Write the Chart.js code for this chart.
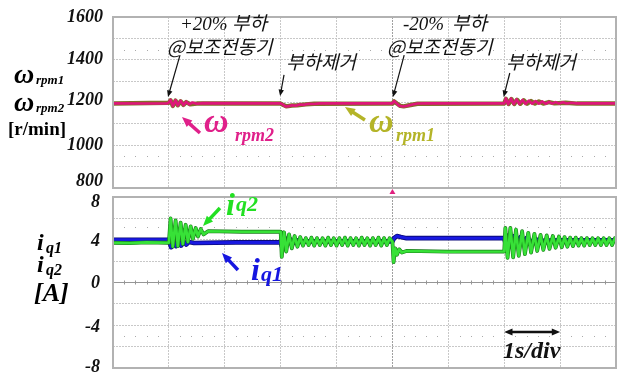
<!DOCTYPE html>
<html lang="ko">
<head>
<meta charset="UTF-8">
<title>Speed and q-axis current response</title>
<script src="https://cdn.jsdelivr.net/npm/chart.js@4.4.1/dist/chart.umd.min.js"></script>
<style>
  body { margin: 0; background: #fff; }
  #wrap { position: relative; width: 622px; height: 376px; overflow: hidden; }
  canvas { position: absolute; left: 0; top: 0; }
  .t { position: absolute; line-height: 1; white-space: nowrap; }
  .s { font-family: "Liberation Serif", serif; font-weight: bold; font-style: italic; }
  .k { font-family: "Noto Sans CJK KR", sans-serif; font-style: italic; font-size: 19px; color: #111; }
</style>
</head>
<body>
<div id="wrap">
  <canvas id="speedChart" width="622" height="376"></canvas>
  <canvas id="currentChart" width="622" height="376"></canvas>

  <!-- event notes -->
  <div class="t" style="left:180px;top:13px;font:italic 19px 'Liberation Serif';color:#111">+20%</div>
  <div class="t k" style="left:232px;top:12px">부하</div>
  <div class="t k" style="left:167px;top:36px">@보조전동기</div>
  <div class="t k" style="left:286px;top:51px">부하제거</div>
  <div class="t" style="left:403px;top:13px;font:italic 19px 'Liberation Serif';color:#111">-20%</div>
  <div class="t k" style="left:452px;top:12px">부하</div>
  <div class="t k" style="left:387px;top:36px">@보조전동기</div>
  <div class="t k" style="left:506px;top:51px">부하제거</div>

  <!-- axis names -->
  <div class="t s" style="left:14px;top:60px;font-size:28px">ω</div>
  <div class="t s" style="left:36px;top:73px;font-size:13px">rpm1</div>
  <div class="t s" style="left:14px;top:88px;font-size:28px">ω</div>
  <div class="t s" style="left:36px;top:101px;font-size:13px">rpm2</div>
  <div class="t" style="left:8px;top:118px;font:bold 19px 'Liberation Serif'">[r/min]</div>
  <div class="t s" style="left:37px;top:230px;font-size:24px">i</div>
  <div class="t s" style="left:46px;top:240px;font-size:16px">q1</div>
  <div class="t s" style="left:37px;top:252px;font-size:24px">i</div>
  <div class="t s" style="left:46px;top:262px;font-size:16px">q2</div>
  <div class="t s" style="left:34px;top:280px;font-size:26px">[A]</div>

  <!-- trace names -->
  <div class="t s" style="left:204px;top:104px;font-size:34px;color:#e0208a">ω</div>
  <div class="t s" style="left:235px;top:126px;font-size:18px;color:#e0208a">rpm2</div>
  <div class="t s" style="left:369px;top:104px;font-size:34px;color:#b4b428">ω</div>
  <div class="t s" style="left:396px;top:126px;font-size:18px;color:#b4b428">rpm1</div>
  <div class="t s" style="left:226px;top:188px;font-size:32px;color:#22e022">i</div>
  <div class="t s" style="left:236px;top:193px;font-size:22px;color:#22e022">q2</div>
  <div class="t s" style="left:251px;top:253px;font-size:32px;color:#1616e0">i</div>
  <div class="t s" style="left:261px;top:263px;font-size:22px;color:#1616e0">q1</div>
  <div class="t s" style="left:503px;top:338px;font-size:24px;color:#111">1s/div</div>
</div>

<script>
// time axis: 9 divisions, 1 s each
const timeRange = [0, 9];
const speedTicks = [800, 1000, 1200, 1400, 1600];
const currentTicks = [-8, -4, 0, 4, 8];

// motor speeds [t (s), r/min]
const rpm1 = [
  [0, 1195], [1.0, 1199], [1.03, 1210], [1.07, 1184], [1.12, 1209], [1.16, 1187], [1.21, 1206],
  [1.26, 1189], [1.31, 1202], [1.38, 1192], [1.5, 1195], [3.0, 1195], [3.05, 1188], [3.1, 1182],
  [3.2, 1186], [3.3, 1187], [3.45, 1191], [3.6, 1194], [5.0, 1195], [5.03, 1205], [5.08, 1195],
  [5.14, 1184], [5.2, 1182], [5.3, 1187], [5.45, 1194], [7.0, 1195], [7.03, 1217], [7.08, 1193],
  [7.13, 1216], [7.18, 1193], [7.23, 1213], [7.29, 1194], [7.35, 1210], [7.41, 1194], [7.48, 1207],
  [7.55, 1195], [7.62, 1205], [7.7, 1195], [7.8, 1202], [7.9, 1196], [8.1, 1199], [8.3, 1195], [9.0, 1195]
];
const rpm2 = [
  [0, 1196], [0.5, 1195], [0.97, 1196], [1.0, 1200], [1.03, 1212], [1.07, 1183], [1.12, 1211],
  [1.16, 1186], [1.21, 1208], [1.26, 1188], [1.31, 1204], [1.36, 1191], [1.42, 1200], [1.5, 1194],
  [1.6, 1197], [3.0, 1196], [3.04, 1190], [3.09, 1181], [3.15, 1183], [3.2, 1187], [3.27, 1185],
  [3.34, 1191], [3.42, 1189], [3.5, 1194], [3.6, 1193], [3.7, 1196], [5.0, 1196], [5.03, 1207],
  [5.07, 1197], [5.12, 1185], [5.19, 1181], [5.27, 1185], [5.36, 1191], [5.45, 1195], [5.6, 1196],
  [7.0, 1196], [7.03, 1219], [7.07, 1192], [7.12, 1218], [7.17, 1192], [7.22, 1215], [7.27, 1193],
  [7.33, 1212], [7.38, 1193], [7.44, 1209], [7.5, 1194], [7.56, 1207], [7.62, 1194], [7.68, 1205],
  [7.74, 1194], [7.8, 1203], [7.86, 1195], [7.92, 1202], [7.98, 1195], [8.05, 1201], [8.12, 1195],
  [8.2, 1199], [8.3, 1196], [9.0, 1196]
];

// q-axis currents [t (s), A]
const iq1 = [
  [0, 4.0], [1.0, 4.0], [1.04, 3.3], [1.08, 3.95], [1.13, 3.4], [1.17, 3.9], [1.22, 3.45],
  [1.26, 3.85], [1.31, 3.55], [1.36, 3.8], [1.45, 3.7], [2.2, 3.75], [3.0, 3.75], [3.03, 3.25],
  [3.07, 4.2], [3.11, 3.5], [3.16, 4.1], [3.21, 3.6], [3.27, 4.0], [3.35, 3.8], [3.5, 3.85],
  [5.0, 3.85], [5.03, 4.15], [5.08, 4.35], [5.15, 4.25], [5.25, 4.15], [6.0, 4.15], [7.0, 4.15],
  [7.03, 3.5], [7.08, 4.4], [7.13, 3.5], [7.18, 4.35], [7.24, 3.6], [7.29, 4.25], [7.35, 3.65],
  [7.40, 4.15], [7.46, 3.75], [7.55, 4.05], [7.65, 3.9], [8.0, 3.95], [9.0, 3.95]
];
const iq2 = [
  [0, 3.72], [0.3, 3.68], [0.6, 3.75], [1.0, 3.72], [1.03, 6.0], [1.07, 3.35], [1.12, 5.8],
  [1.16, 3.4], [1.21, 5.6], [1.25, 3.6], [1.30, 5.4], [1.34, 3.8], [1.39, 5.25], [1.43, 4.1],
  [1.48, 5.1], [1.52, 4.3], [1.57, 5.0], [1.62, 4.5], [1.70, 4.8], [2.3, 4.75], [3.0, 4.75],
  [3.02, 2.4], [3.06, 4.7], [3.10, 2.9], [3.15, 4.5], [3.20, 3.2], [3.25, 4.35], [3.30, 3.35],
  [3.35, 4.25], [3.40, 3.45], [3.45, 4.15], [3.50, 3.5], [3.55, 4.2], [3.60, 3.45], [3.65, 4.15],
  [3.70, 3.5], [3.75, 4.15], [3.80, 3.45], [3.85, 4.2], [3.90, 3.5], [3.95, 4.15], [4.00, 3.45],
  [4.05, 4.15], [4.10, 3.5], [4.15, 4.2], [4.20, 3.45], [4.25, 4.15], [4.30, 3.5], [4.35, 4.15],
  [4.40, 3.45], [4.45, 4.2], [4.50, 3.5], [4.55, 4.15], [4.60, 3.45], [4.65, 4.15], [4.70, 3.5],
  [4.75, 4.2], [4.80, 3.45], [4.85, 4.15], [4.90, 3.5], [4.95, 4.15], [5.00, 3.8], [5.02, 1.9],
  [5.05, 3.2], [5.08, 2.6], [5.12, 3.1], [5.17, 2.8], [5.25, 2.95], [6.0, 2.88], [7.0, 2.9],
  [7.02, 5.1], [7.06, 2.3], [7.11, 5.1], [7.16, 2.35], [7.21, 4.95], [7.26, 2.5], [7.32, 4.8],
  [7.37, 2.65], [7.43, 4.65], [7.48, 2.8], [7.54, 4.55], [7.59, 2.95], [7.65, 4.45], [7.70, 3.05],
  [7.76, 4.4], [7.81, 3.15], [7.87, 4.35], [7.92, 3.25], [7.98, 4.3], [8.03, 3.3], [8.08, 4.25],
  [8.13, 3.35], [8.18, 4.2], [8.23, 3.4], [8.28, 4.2], [8.33, 3.45], [8.38, 4.15], [8.43, 3.45],
  [8.48, 4.15], [8.53, 3.5], [8.58, 4.15], [8.63, 3.5], [8.68, 4.15], [8.73, 3.5], [8.78, 4.15],
  [8.83, 3.5], [8.88, 4.15], [8.93, 3.5], [8.98, 4.15], [9.0, 3.9]
];

const toXY = pts => pts.map(([x, y]) => ({ x, y }));

function drawArrow(ctx, x0, y0, x1, y1, color, width, head, both) {
  const ang = Math.atan2(y1 - y0, x1 - x0);
  const tip = (x, y, a) => {
    ctx.beginPath();
    ctx.moveTo(x, y);
    ctx.lineTo(x - head * Math.cos(a - 0.4), y - head * Math.sin(a - 0.4));
    ctx.lineTo(x - head * Math.cos(a + 0.4), y - head * Math.sin(a + 0.4));
    ctx.closePath();
    ctx.fill();
  };
  ctx.strokeStyle = color;
  ctx.fillStyle = color;
  ctx.lineWidth = width;
  ctx.beginPath();
  const back = head * 0.7;
  ctx.moveTo(both ? x0 + back * Math.cos(ang) : x0, both ? y0 + back * Math.sin(ang) : y0);
  ctx.lineTo(x1 - back * Math.cos(ang), y1 - back * Math.sin(ang));
  ctx.stroke();
  tip(x1, y1, ang);
  if (both) tip(x0, y0, ang + Math.PI);
}

// scope screen decorations: dotted rows, centre ticks, frame, arrows
const scopeMarks = {
  id: 'scopeMarks',
  beforeDraw(chart, args, opts) {
    // nudge the end labels that sit next to the other panel
    const y = chart.scales.y;
    const shift = opts.labelShift || {};
    y.getLabelItems(chart.chartArea).forEach(item => {
      if (shift[item.label] !== undefined && !item.shifted) {
        item.options.translation[1] += shift[item.label];
        item.shifted = true;
      }
    });
  },
  beforeDatasetsDraw(chart, args, opts) {
    const { ctx, chartArea: a, scales: { x, y } } = chart;
    const step = (a.right - a.left) / 45;
    ctx.save();
    ctx.fillStyle = 'rgb(170,170,170)';
    (opts.dotRows || []).forEach(v => {
      const py = Math.round(y.getPixelForValue(v));
      for (let i = 1; i < 45; i++) {
        if (i % 5) ctx.fillRect(Math.round(a.left + i * step), py, 1, 1);
      }
    });
    if (opts.centreTicks !== undefined) {
      const py = y.getPixelForValue(opts.centreTicks);
      ctx.strokeStyle = 'rgb(150,150,150)';
      ctx.lineWidth = 1;
      ctx.beginPath();
      ctx.moveTo(a.left, py); ctx.lineTo(a.right, py);
      for (let i = 1; i < 45; i++) {
        const px = Math.round(a.left + i * step) + 0.5;
        ctx.moveTo(px, py - 2); ctx.lineTo(px, py + 2);
      }
      ctx.stroke();
    }
    ctx.restore();
  },
  afterDatasetsDraw(chart, args, opts) {
    const { ctx, chartArea: a, scales: { x, y } } = chart;
    ctx.save();
    ctx.strokeStyle = 'rgb(178,178,178)';
    ctx.lineWidth = 2;
    ctx.strokeRect(a.left, a.top, a.right - a.left, a.bottom - a.top);
    (opts.arrows || []).forEach(ar => {
      drawArrow(ctx, x.getPixelForValue(ar.from[0]), y.getPixelForValue(ar.from[1]),
        x.getPixelForValue(ar.to[0]), y.getPixelForValue(ar.to[1]),
        ar.color, ar.width, ar.head, ar.both);
    });
    if (opts.trigger !== undefined) {
      const px = x.getPixelForValue(opts.trigger);
      ctx.fillStyle = '#e0207f';
      ctx.beginPath();
      ctx.moveTo(px, a.top - 8); ctx.lineTo(px + 3, a.top - 3); ctx.lineTo(px - 3, a.top - 3);
      ctx.closePath();
      ctx.fill();
    }
    ctx.restore();
  }
};

function scopeOptions(yMin, yMax, yStep, labels, tickPad, padding, marks) {
  const gridCol = 'rgb(200,200,200)';
  return {
    responsive: false,
    animation: false,
    devicePixelRatio: 1,
    events: [],
    layout: { padding },
    plugins: { legend: { display: false }, tooltip: { enabled: false }, scopeMarks: marks },
    elements: { point: { radius: 0 }, line: { tension: 0, borderJoinStyle: 'round' } },
    scales: {
      x: {
        type: 'linear', min: timeRange[0], max: timeRange[1],
        ticks: { display: false, stepSize: 1 },
        grid: { drawTicks: false, color: c => c.tick.value === 5 ? 'rgb(160,160,160)' : gridCol },
        border: { display: false, dash: [2, 1] },
        afterFit: s => { s.height = 0; }
      },
      y: {
        min: yMin, max: yMax,
        ticks: {
          stepSize: yStep, autoSkip: false, padding: tickPad, color: '#111',
          font: { family: "'Liberation Serif', 'Times New Roman', serif", size: 18, weight: 'bold', style: 'italic' },
          callback: v => labels.includes(v) ? String(v) : ''
        },
        grid: { drawTicks: false, color: gridCol },
        border: { display: false, dash: [2, 1] },
        afterFit: s => { s.width = 113; s.paddingTop = 0; s.paddingBottom = 0; }
      }
    }
  };
}

new Chart(document.getElementById('speedChart'), {
  type: 'line',
  data: {
    datasets: [
      { data: toXY(rpm2), borderColor: 'rgb(222,22,122)', borderWidth: 2.6, order: 1 },
      { data: toXY(rpm1), borderColor: 'rgb(130,110,40)', borderWidth: 4.4, order: 2 }
    ]
  },
  options: scopeOptions(800, 1600, 100, speedTicks, 10, { top: 17, right: 6, bottom: 188, left: 0 }, {
    labelShift: { '800': -7, '1200': -2 },
    dotRows: [1446, 950],
    arrows: [
      { from: [1.199, 1422], to: [0.984, 1226], color: '#111', width: 1.2, head: 7 },
      { from: [3.06, 1329], to: [2.99, 1230], color: '#111', width: 1.2, head: 7 },
      { from: [5.21, 1422], to: [5.01, 1226], color: '#111', width: 1.2, head: 7 },
      { from: [7.10, 1338], to: [6.99, 1226], color: '#111', width: 1.2, head: 7 },
      { from: [1.556, 1057], to: [1.234, 1132], color: '#e0208a', width: 3.5, head: 11 },
      { from: [4.508, 1118], to: [4.150, 1179], color: '#b4b428', width: 3.5, head: 11 }
    ]
  }),
  plugins: [scopeMarks]
});

new Chart(document.getElementById('currentChart'), {
  type: 'line',
  data: {
    datasets: [
      { data: toXY(iq2), borderColor: 'rgb(55,225,55)', borderWidth: 2.6, order: 1 },
      { data: toXY(iq2), borderColor: 'rgb(25,125,25)', borderWidth: 3.8, order: 2 },
      { data: toXY(iq1), borderColor: 'rgb(25,25,225)', borderWidth: 3, order: 3 },
      { data: toXY(iq1), borderColor: 'rgb(10,10,120)', borderWidth: 4.6, order: 4 }
    ]
  },
  options: scopeOptions(-8, 8, 2, currentTicks, 13, { top: 197, right: 6, bottom: 8, left: 0 }, {
    labelShift: { '8': 5, '4': 2, '0': 1, '-4': 2, '-8': -1 },
    dotRows: [5.15, -5.05],
    centreTicks: 0,
    trigger: 5,
    arrows: [
      { from: [1.914, 6.97], to: [1.61, 5.29], color: '#22e022', width: 3.5, head: 11 },
      { from: [2.236, 1.17], to: [1.950, 2.76], color: '#1616e0', width: 3.5, head: 11 },
      { from: [7.0, -4.63], to: [8.0, -4.63], color: '#111', width: 2.5, head: 9, both: true }
    ]
  }),
  plugins: [scopeMarks]
});
</script>
</body>
</html>
